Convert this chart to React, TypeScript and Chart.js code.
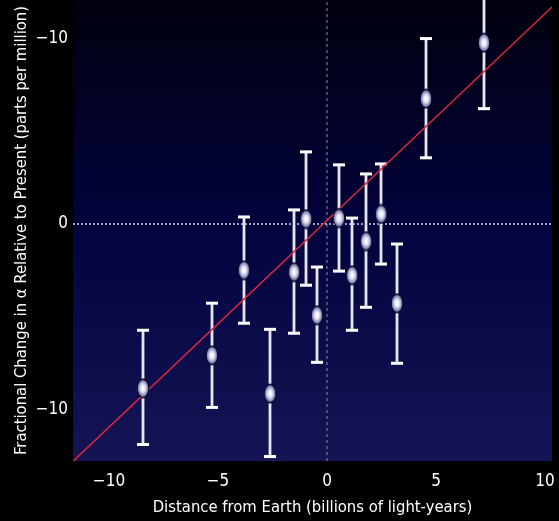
import { useEffect, useRef } from 'react';
import { Chart, registerables } from 'chart.js';

Chart.register(...registerables);

// Data
const distance = [-8.44, -5.28, -3.81, -2.61, -1.51, -0.96, -0.46, 0.55, 1.15, 1.79, 2.48, 3.21, 4.54, 7.2];
const change = [-8.86, -7.08, -2.49, -9.14, -2.59, 0.27, -4.92, 0.32, -2.76, -0.92, 0.54, -4.27, 6.76, 9.78];
const changeHigh = [-5.73, -4.27, 0.38, -5.68, 0.76, 3.89, -2.32, 3.19, 0.32, 2.7, 3.24, -1.08, 10.0, 13.3];
const changeLow = [-11.89, -9.89, -5.35, -12.54, -5.89, -3.3, -7.46, -2.54, -5.73, -4.49, -2.16, -7.51, 3.57, 6.22];

const fitX = [-11.65, 10.32];
const fitY = [-12.8, 11.7];

const xTicks = [-10, -5, 0, 5, 10];
const xTickLabels = ['−10', '−5', '0', '5', '10'];
const yTicks = [-10, 0, 10];
const yTickLabels = ['−10', '0', '−10'];

const X_MIN = -11.65;
const X_MAX = 10.32;
const Y_MIN = -12.78;
const Y_MAX = 12.08;

const FONT = '"DejaVu Sans Condensed", "Liberation Sans", sans-serif';

export default function App() {
  const ref = useRef<HTMLCanvasElement>(null);

  useEffect(() => {
    if (!ref.current) return;

    const marker = document.createElement('canvas');
    marker.width = 14;
    marker.height = 21;
    const m = marker.getContext('2d')!;
    m.translate(7, 10.5);
    m.scale(1, 1.6);
    const g = m.createRadialGradient(0, 0, 0.3, 0, 0, 6);
    g.addColorStop(0, '#ffffff');
    g.addColorStop(0.35, '#e6e6f4');
    g.addColorStop(0.8, '#7c7cb2');
    g.addColorStop(1, '#40407a');
    m.beginPath();
    m.arc(0, 0, 5.8, 0, Math.PI * 2);
    m.fillStyle = g;
    m.fill();
    m.lineWidth = 0.9;
    m.strokeStyle = '#08082a';
    m.stroke();

    const bgAndBars = {
      id: 'bgAndBars',
      beforeDatasetsDraw(chart: any) {
        const { ctx, chartArea, scales } = chart;
        ctx.save();
        const grad = ctx.createLinearGradient(0, chartArea.top, 0, chartArea.bottom);
        grad.addColorStop(0, '#00000e');
        grad.addColorStop(0.5, '#03033f');
        grad.addColorStop(1, '#151556');
        ctx.fillStyle = grad;
        ctx.fillRect(chartArea.left, chartArea.top, chartArea.right - chartArea.left, chartArea.bottom - chartArea.top);

        ctx.beginPath();
        ctx.rect(chartArea.left, chartArea.top, chartArea.right - chartArea.left, chartArea.bottom - chartArea.top);
        ctx.clip();
        for (let i = 0; i < distance.length; i++) {
          const x = Math.round(scales.x.getPixelForValue(distance[i]));
          const yt = scales.y.getPixelForValue(changeHigh[i]);
          const yb = scales.y.getPixelForValue(changeLow[i]);
          ctx.lineCap = 'butt';
          ctx.strokeStyle = '#b8b8c8';
          ctx.lineWidth = 3;
          ctx.beginPath();
          ctx.moveTo(x, yt);
          ctx.lineTo(x, yb);
          ctx.stroke();
          ctx.strokeStyle = '#ffffff';
          ctx.lineWidth = 1.3;
          ctx.beginPath();
          ctx.moveTo(x, yt);
          ctx.lineTo(x, yb);
          ctx.stroke();
          ctx.fillStyle = '#ffffff';
          ctx.fillRect(x - 6, yt - 1.5, 12, 3);
          ctx.fillRect(x - 6, yb - 1.5, 12, 3);
        }
        ctx.restore();
      },
    };

    const chart = new Chart(ref.current, {
      type: 'scatter',
      data: {
        datasets: [
          {
            label: 'Measurements',
            data: distance.map((d, i) => ({ x: d, y: change[i] })),
            pointStyle: marker as any,
            pointRadius: 7,
            order: 0,
          },
          {
            label: 'Fit',
            data: fitX.map((d, i) => ({ x: d, y: fitY[i] })),
            showLine: true,
            borderColor: '#d8283c',
            borderWidth: 1.5,
            pointRadius: 0,
            order: 1,
          },
          {
            label: 'zeroH',
            data: [{ x: X_MIN, y: 0 }, { x: X_MAX, y: 0 }],
            showLine: true,
            borderColor: '#c8c8dc',
            borderWidth: 1.6,
            borderDash: [2, 2],
            pointRadius: 0,
            order: 2,
          },
          {
            label: 'zeroV',
            data: [{ x: 0, y: Y_MIN }, { x: 0, y: Y_MAX }],
            showLine: true,
            borderColor: '#8c8ca0',
            borderWidth: 1,
            borderDash: [3, 3],
            pointRadius: 0,
            order: 3,
          },
        ],
      },
      options: {
        animation: false,
        responsive: true,
        maintainAspectRatio: false,
        layout: { autoPadding: false, padding: { left: 0, right: 7, top: 0, bottom: 0 } },
        plugins: { legend: { display: false }, tooltip: { enabled: false } },
        scales: {
          x: {
            type: 'linear',
            min: X_MIN,
            max: X_MAX,
            grid: { display: false, drawTicks: false },
            border: { display: false },
            afterBuildTicks: (s: any) => {
              s.ticks = xTicks.map((v) => ({ value: v }));
            },
            afterFit: (s: any) => {
              s.height = 60;
              s.paddingLeft = 0;
              s.paddingRight = 0;
            },
            ticks: {
              color: '#ffffff',
              font: { family: FONT, size: 17 },
              padding: 10,
              maxRotation: 0,
              autoSkip: false,
              callback: (v: any) => xTickLabels[xTicks.indexOf(Number(v))] ?? '',
            },
            title: {
              display: true,
              text: 'Distance from Earth (billions of light-years)',
              color: '#ffffff',
              font: { family: FONT, size: 16.5 },
              padding: { top: 0, bottom: 3 },
            },
          },
          y: {
            type: 'linear',
            min: Y_MIN,
            max: Y_MAX,
            grid: { display: false, drawTicks: false },
            border: { display: false },
            afterBuildTicks: (s: any) => {
              s.ticks = yTicks.map((v) => ({ value: v }));
            },
            afterFit: (s: any) => {
              s.width = 73;
              s.paddingTop = 0;
              s.paddingBottom = 0;
            },
            ticks: {
              color: '#ffffff',
              font: { family: FONT, size: 17 },
              padding: 5,
              autoSkip: false,
              callback: (v: any) => yTickLabels[yTicks.indexOf(Number(v))] ?? '',
            },
            title: {
              display: true,
              text: 'Fractional Change in α Relative to Present (parts per million)',
              color: '#ffffff',
              font: { family: FONT, size: 16.5 },
              padding: { top: 12, bottom: 0 },
            },
          },
        },
      },
      plugins: [bgAndBars],
    });

    return () => chart.destroy();
  }, []);

  return (
    <div style={{ position: 'fixed', left: 0, top: 0, width: 559, height: 521, background: '#000000' }}>
      <canvas ref={ref} />
    </div>
  );
}
